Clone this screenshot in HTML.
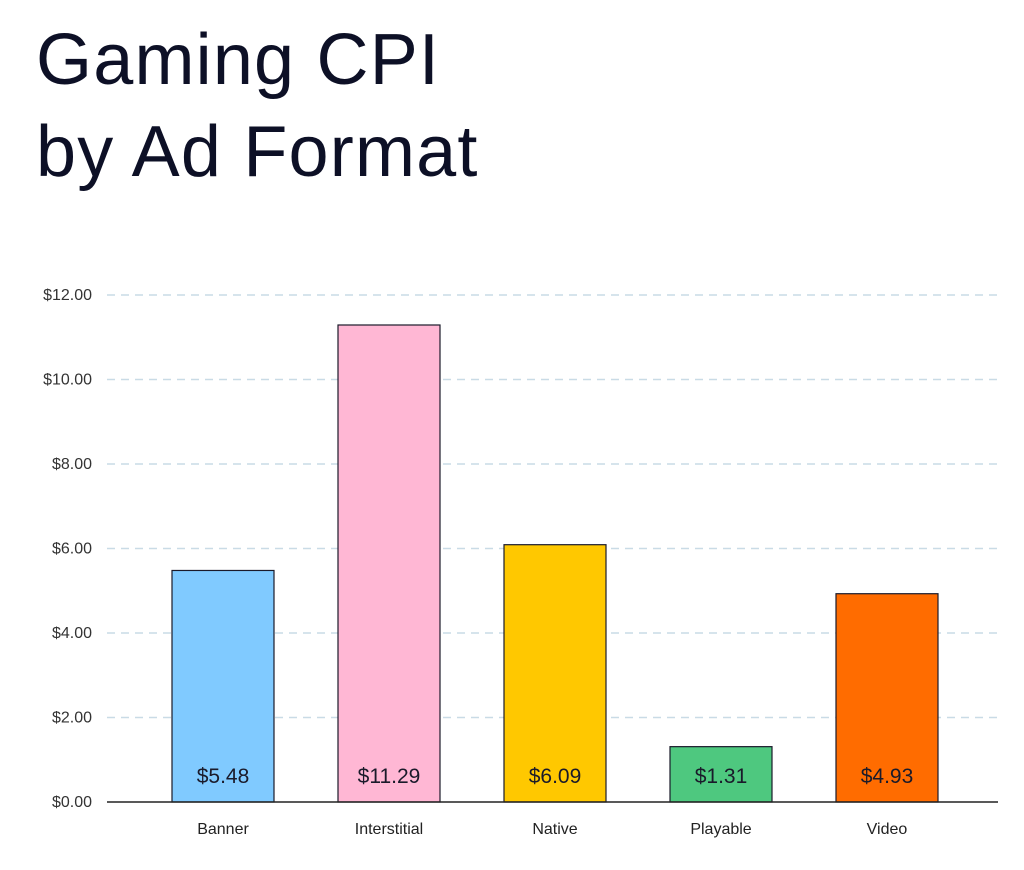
<!DOCTYPE html>
<html><head><meta charset="utf-8">
<style>
html,body{margin:0;padding:0;background:#fff;}
body{width:1024px;height:870px;overflow:hidden;font-family:"Liberation Sans",sans-serif;color:#0d1026;position:relative;}
.title{position:absolute;left:36px;top:14px;font-size:72px;line-height:92px;font-weight:400;letter-spacing:1.2px;margin:0;}
svg{position:absolute;left:0;top:0;}
</style></head>
<body>
<h1 class="title">Gaming CPI<br>by Ad Format</h1>
<svg id="chart" width="1024" height="870"></svg>
<script>
const categories = ["Banner","Interstitial","Native","Playable","Video"];
const values = [5.48, 11.29, 6.09, 1.31, 4.93];
const valueLabels = ["$5.48","$11.29","$6.09","$1.31","$4.93"];
const colors = ["#80caff","#ffb7d4","#ffc800","#4ec87f","#ff6c00"];
const ticks = [0,2,4,6,8,10,12];
const tickLabels = ["$0.00","$2.00","$4.00","$6.00","$8.00","$10.00","$12.00"];

const svg = document.getElementById('chart');
const NS = 'http://www.w3.org/2000/svg';
const y0 = 802, y12 = 295, xLeft = 107, xRight = 998;
const yScale = v => y0 - (v/12)*(y0-y12);
const firstCenter = 223, step = 166, barW = 102;
const xCenter = i => firstCenter + i*step;
function mk(tag, attrs){const e=document.createElementNS(NS,tag);for(const k in attrs)e.setAttribute(k,attrs[k]);svg.appendChild(e);return e;}

ticks.forEach((t,i)=>{
  const y=yScale(t);
  if(t>0){
    const g=mk('line',{x1:xLeft,x2:xRight,y1:y,y2:y,stroke:'#c9dbe6','stroke-width':1.5,'stroke-dasharray':'8 6'});
    
    
  }
  const tx=mk('text',{x:92,y:y+5,'text-anchor':'end','font-size':16,fill:'#333','font-family':'Liberation Sans, sans-serif'});
  tx.textContent=tickLabels[i];
  
  
});

values.forEach((v,i)=>{
  const top=yScale(v);
  const r=mk('rect',{x:xCenter(i)-barW/2,y:top,width:barW,height:y0-top,fill:colors[i],stroke:'#1a1a2a','stroke-width':1.2});
  
  
  const vl=mk('text',{x:xCenter(i),y:783,'text-anchor':'middle','font-size':21,fill:'#1a1a2a','font-family':'Liberation Sans, sans-serif'});
  vl.textContent=valueLabels[i];
  
  
  const cl=mk('text',{x:xCenter(i),y:834,'text-anchor':'middle','font-size':16,fill:'#222','font-family':'Liberation Sans, sans-serif'});
  cl.textContent=categories[i];
  
  
});

const ax=mk('line',{x1:xLeft,x2:xRight,y1:y0,y2:y0,stroke:'#222','stroke-width':1.5});


</script>
</body></html>
